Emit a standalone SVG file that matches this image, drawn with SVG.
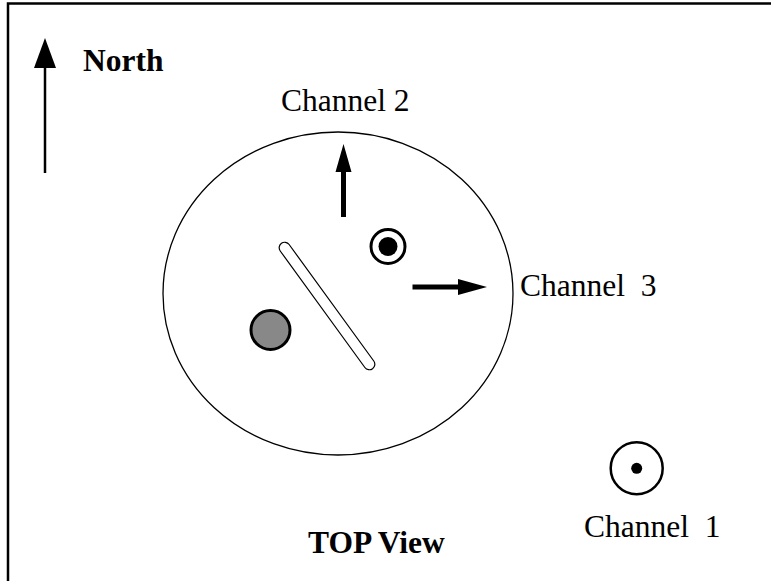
<svg xmlns="http://www.w3.org/2000/svg" width="771" height="581" viewBox="0 0 771 581">
<style>
.lbl{font-family:"Liberation Serif","Times New Roman",serif;font-size:31.5px;fill:#000;white-space:pre}
.bold{font-weight:bold}
.arrow{fill:#000;stroke:none}
</style>
<rect x="0" y="0" width="771" height="581" fill="#fff"/>
<g id="frame"><path d="M8,590 L8,3.5 L780,3.5" fill="none" stroke="#000" stroke-width="2.5"/></g>
<g id="north">
<line x1="45" y1="173" x2="45" y2="66" stroke="#000" stroke-width="2.5"/>
<polygon class="arrow" points="45,38 34,68 56,68"/>
<text class="lbl bold" x="83" y="70.5">North</text>
</g>
<g id="body">
<ellipse cx="338" cy="293.5" rx="175" ry="161.5" fill="#fff" stroke="#000" stroke-width="1.3"/>
</g>
<g id="slot">
<rect x="249.5" y="300.5" width="155" height="11" rx="5.5" fill="#fff" stroke="#000" stroke-width="1.2" transform="rotate(54 327 306)"/>
</g>
<g id="gray-disc">
<circle cx="270.5" cy="330" r="19.5" fill="#888" stroke="#000" stroke-width="3"/>
</g>
<g id="inner-target">
<circle cx="388" cy="246.5" r="17" fill="#fff" stroke="#000" stroke-width="3"/>
<circle cx="388" cy="246.5" r="9.5" fill="#000"/>
</g>
<g id="connectors">
<g id="channel2-arrow">
<line x1="343.5" y1="217" x2="343.5" y2="170" stroke="#000" stroke-width="5"/>
<polygon class="arrow" points="343.5,144 335.5,172 351.5,172"/>
</g>
<g id="channel3-arrow">
<line x1="412.5" y1="287" x2="460" y2="287" stroke="#000" stroke-width="5"/>
<polygon class="arrow" points="487,287 458,279 458,295"/>
</g>
</g>
<g id="channel2"><text class="lbl" x="281" y="111">Channel 2</text></g>
<g id="channel3"><text class="lbl" x="520" y="296">Channel  3</text></g>
<g id="channel1">
<circle cx="636.7" cy="468.3" r="26" fill="#fff" stroke="#000" stroke-width="2.5"/>
<circle cx="636.7" cy="468.3" r="5.5" fill="#000"/>
<text class="lbl" x="584" y="537">Channel  1</text>
</g>
<g id="title"><text class="lbl bold" x="308" y="553">TOP View</text></g>
</svg>
